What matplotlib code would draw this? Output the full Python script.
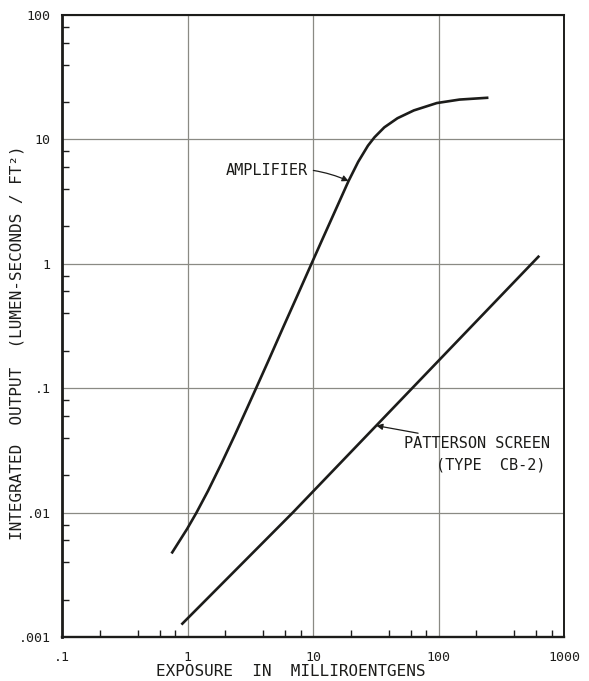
import matplotlib
matplotlib.use("Agg")
import matplotlib.pyplot as plt
from matplotlib.ticker import FixedLocator, NullFormatter

# amplifier response, exposure (mR) vs integrated output (lumen-s/ft^2)
amp_x = [0.756, 0.994, 1.175, 1.456, 1.865, 2.385, 2.96, 3.52, 4.41, 5.82, 7.46,
         9.72, 11.8, 15.9, 19.2, 22.9, 27.4, 30.9, 37.0, 47.1, 63.6, 97, 147, 244]
amp_y = [0.00479, 0.00741, 0.00993, 0.01493, 0.02483, 0.04207, 0.06792, 0.1, 0.166,
         0.313, 0.548, 1.0, 1.55, 3.03, 4.63, 6.6, 8.9, 10.4, 12.5, 14.8, 17.1,
         19.6, 20.9, 21.6]

# patterson screen, straight line on log-log
pat_x = [0.91, 6.9, 625]
pat_y = [0.00128, 0.01, 1.14]

xticks = [0.1, 1, 10, 100, 1000]
xticklabels = [".1", "1", "10", "100", "1000"]
yticks = [0.001, 0.01, 0.1, 1, 10, 100]
yticklabels = [".001", ".01", ".1", "1", "10", "100"]

ink = "#1c1c1a"
grid_col = "#8a8a84"

plt.rcParams["font.family"] = ["DejaVu Sans Mono", "DejaVu Sans"]

fig = plt.figure(figsize=(5.89, 6.81), dpi=100)
ax = fig.add_axes([62 / 589, 1 - 637 / 681, (564 - 62) / 589, (637 - 15) / 681])

ax.set_xscale("log")
ax.set_yscale("log")
ax.set_xlim(0.1, 1000)
ax.set_ylim(0.001, 100)

ax.plot(amp_x, amp_y, color=ink, lw=1.9, solid_joinstyle="round")
ax.plot(pat_x, pat_y, color=ink, lw=1.9)

ax.xaxis.set_major_locator(FixedLocator(xticks))
ax.set_xticklabels(xticklabels)
ax.yaxis.set_major_locator(FixedLocator(yticks))
ax.set_yticklabels(yticklabels)
minor = [m * 10.0 ** e for e in range(-3, 3) for m in (2, 4, 6, 8)]
ax.xaxis.set_minor_locator(FixedLocator([v for v in minor if 0.1 < v < 1000]))
ax.yaxis.set_minor_locator(FixedLocator([v for v in minor if 0.001 < v < 100]))
ax.xaxis.set_minor_formatter(NullFormatter())
ax.yaxis.set_minor_formatter(NullFormatter())

ax.tick_params(which="both", direction="in", color=ink, labelcolor=ink,
               top=False, right=False)
ax.tick_params(which="major", length=0, labelsize=9.5)
ax.tick_params(axis="x", which="major", pad=10)
ax.tick_params(axis="y", which="major", pad=8)
ax.tick_params(which="minor", length=5, width=1.0)

ax.grid(True, which="major", color=grid_col, lw=0.9)
for side, lw in (("left", 2.0), ("bottom", 1.7), ("top", 1.5), ("right", 1.4)):
    ax.spines[side].set_linewidth(lw)
    ax.spines[side].set_color(ink)

ax.set_xlabel("EXPOSURE  IN  MILLIROENTGENS", fontsize=11.5, color=ink, va="center")
ax.xaxis.set_label_coords(0.456, -0.055)
ax.set_ylabel("INTEGRATED  OUTPUT  (LUMEN-SECONDS / FT²)", fontsize=11.5, color=ink)
ax.yaxis.set_label_coords(-0.074, 0.473)

ax.annotate("AMPLIFIER", xy=(19.2, 4.63), xytext=(9.1, 5.6), ha="right", va="center",
            fontsize=11, color=ink,
            arrowprops=dict(arrowstyle="-|>", color=ink, lw=0.9, mutation_scale=9,
                            connectionstyle="arc3,rad=-0.15", shrinkA=2, shrinkB=0))
ax.annotate("PATTERSON SCREEN", xy=(32, 0.05), xytext=(53.5, 0.0356), ha="left", va="center",
            fontsize=11, color=ink,
            arrowprops=dict(arrowstyle="-|>", color=ink, lw=0.9, mutation_scale=9,
                            shrinkA=2, shrinkB=0))
ax.text(262, 0.0242, "(TYPE  CB-2)", ha="center", va="center", fontsize=11, color=ink)

fig.savefig("out.png", dpi=100, facecolor="white")
